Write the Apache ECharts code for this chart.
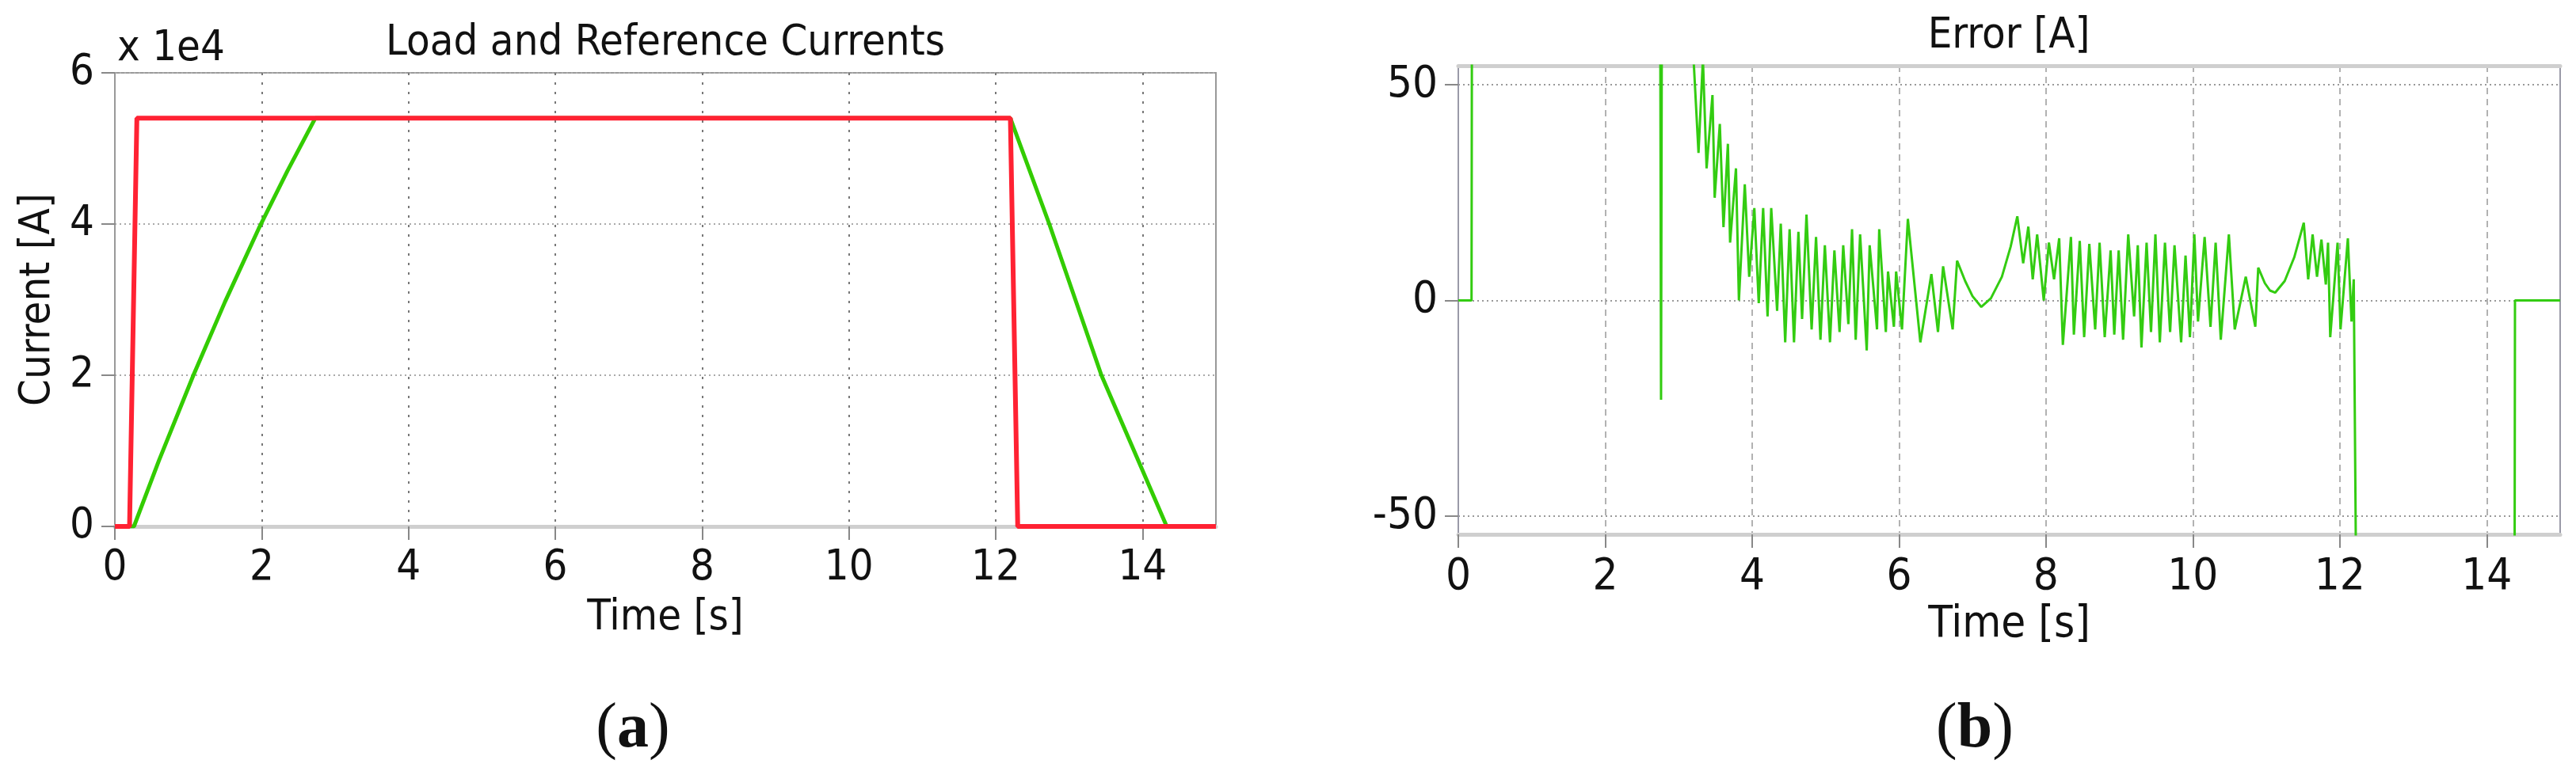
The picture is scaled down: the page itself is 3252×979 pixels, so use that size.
<!DOCTYPE html>
<html>
<head>
<meta charset="utf-8">
<script src="https://cdn.jsdelivr.net/npm/echarts@6/dist/echarts.min.js"></script>
<style>
  html, body { margin: 0; padding: 0; background: #fff; }
  #chart { width: 3252px; height: 979px; }
</style>
</head>
<body>
<div id="chart"></div>
<script>
// (a) reference and load currents [A] against time [s]
const refTime = [0, 0.2, 0.3, 12.2, 12.3, 15];
const refCurrent = [0, 0, 54000, 54000, 0, 0];
const loadTime = [0, 0.26, 0.6, 1.07, 1.5, 1.96, 2.35, 2.73, 12.2, 12.73, 13.44, 14.33, 15];
const loadCurrent = [0, 0, 8700, 20000, 29700, 39400, 47000, 54000, 54000, 40000, 20000, 0, 0];

// (b) error [A]; values beyond +-54 are off the plot
const errTime = [
  0, 0.18, 0.185, 2.75, 2.76, 2.77, 3.19, 3.27, 3.33, 3.38, 3.46, 3.49, 3.56, 3.61, 3.67, 3.70,
  3.78, 3.82, 3.90, 3.96, 4.03, 4.09, 4.15, 4.21, 4.26, 4.34, 4.39, 4.45, 4.51, 4.57, 4.63, 4.68,
  4.74, 4.81, 4.87, 4.93, 4.99, 5.06, 5.12, 5.19, 5.24, 5.31, 5.36, 5.41, 5.47, 5.56, 5.60, 5.70,
  5.73, 5.82, 5.85, 5.93, 5.96, 6.04, 6.12, 6.29, 6.44, 6.53, 6.60, 6.73, 6.79, 6.90, 7.00, 7.12,
  7.25, 7.40, 7.52, 7.61, 7.69, 7.76, 7.82, 7.88, 7.97, 8.04, 8.11, 8.18, 8.23, 8.34, 8.38, 8.46,
  8.52, 8.59, 8.67, 8.73, 8.80, 8.88, 8.93, 8.99, 9.05, 9.12, 9.20, 9.25, 9.30, 9.37, 9.43, 9.49,
  9.55, 9.62, 9.69, 9.75, 9.84, 9.90, 9.96, 10.02, 10.07, 10.16, 10.24, 10.31, 10.38, 10.49, 10.57, 10.72,
  10.85, 10.89, 10.98, 11.05, 11.12, 11.25, 11.38, 11.51, 11.57, 11.63, 11.69, 11.75, 11.81, 11.84, 11.87, 11.97,
  12.01, 12.11, 12.16, 12.19, 12.22, 14.38, 14.385, 15
];
const errValue = [
  0, 0, 60, 60, -23, 60, 60, 34.2, 56, 30.6, 47.6, 23.8, 40.9, 17.0, 36.3, 13.4,
  30.6, 0.0, 26.9, 5.5, 21.4, -0.6, 21.4, -3.7, 21.4, -2.4, 17.8, -9.7, 16.5, -9.7, 15.9, -4.3,
  19.9, -6.7, 14.7, -9.1, 12.8, -9.7, 11.6, -7.3, 12.8, -5.5, 16.5, -9.1, 15.3, -11.6, 12.8, -6.7,
  16.5, -7.3, 6.7, -6.1, 6.7, -6.7, 18.9, -9.7, 6.1, -7.3, 7.9, -6.7, 9.2, 4.5, 1.0, -1.5,
  0.5, 5.5, 12.5, 19.5, 8.6, 17.1, 4.9, 15.3, 0.0, 13.4, 4.9, 14.4, -10.3, 14.7, -7.9, 13.8,
  -8.5, 13.1, -6.7, 13.4, -8.5, 11.6, -7.9, 11.6, -9.1, 15.3, -3.7, 12.8, -10.9, 13.4, -7.3, 15.3,
  -9.7, 13.4, -7.3, 12.8, -9.7, 10.4, -8.5, 15.3, -4.9, 14.7, -6.1, 13.4, -9.1, 15.3, -6.7, 5.5,
  -6.1, 7.6, 4.0, 2.3, 1.8, 4.5, 10.0, 18.0, 4.9, 15.3, 5.5, 14.1, 3.7, 13.4, -8.5, 13.4,
  -6.7, 14.4, -4.9, 4.9, -60, -60, 0, 0
];

const timeTicks = [0, 2, 4, 6, 8, 10, 12, 14];
const errTicks = [-50, 0, 50];

const font = "'DejaVu Sans Condensed', 'DejaVu Sans', sans-serif";
const serif = "'Liberation Serif', 'DejaVu Serif', serif";
const ink = '#111';

function pairs(xs, ys) {
  return xs.map((x, i) => [x, ys[i]]);
}

function timeAxis(gridIndex, nameGap, fontSize, gridLine) {
  return {
    gridIndex,
    type: 'value',
    min: 0,
    max: 15,
    name: 'Time [s]',
    nameLocation: 'middle',
    nameGap,
    nameTextStyle: { fontSize, color: ink, fontFamily: font },
    axisLine: { show: true, onZero: false, lineStyle: { color: '#cfcfcf', width: 5 } },
    axisTick: { show: true, customValues: timeTicks, length: 17, lineStyle: { color: '#888', width: 2 } },
    axisLabel: { customValues: timeTicks, fontSize, color: ink, fontFamily: font, margin: 26 },
    splitLine: { show: true, lineStyle: gridLine }
  };
}

const chart = echarts.init(document.getElementById('chart'));

chart.setOption({
  backgroundColor: '#fff',
  animation: false,
  grid: [
    { left: 145, top: 92, width: 1390, height: 573, show: true, borderColor: '#999', borderWidth: 2 },
    { left: 1841, top: 83, width: 1391, height: 592, show: true, borderColor: '#9a9aa8', borderWidth: 2 }
  ],
  xAxis: [
    timeAxis(0, 89, 54, { color: '#777', width: 2, type: [3, 9] }),
    timeAxis(1, 84, 56, { color: '#999', width: 1.5, type: [8, 6] }),
    {
      // thick light frame along the top of (b)
      gridIndex: 1, type: 'value', min: 0, max: 15, position: 'top',
      axisLine: { show: true, onZero: false, lineStyle: { color: '#cfcfcf', width: 5 } },
      axisTick: { show: false }, axisLabel: { show: false }, splitLine: { show: false }
    }
  ],
  yAxis: [
    {
      gridIndex: 0,
      type: 'value',
      min: 0,
      max: 60000,
      interval: 20000,
      name: 'Current [A]',
      nameLocation: 'middle',
      nameRotate: 90,
      nameGap: 70,
      nameTextStyle: { fontSize: 54, color: ink, fontFamily: font },
      axisLine: { show: true, onZero: false, lineStyle: { color: '#999', width: 2 } },
      axisTick: { show: true, length: 17, lineStyle: { color: '#888', width: 2 } },
      axisLabel: { fontSize: 54, color: ink, fontFamily: font, margin: 26, formatter: (v) => String(v / 10000) },
      splitLine: { show: true, lineStyle: { color: '#aaa', width: 2, type: [2, 4] } }
    },
    {
      gridIndex: 1,
      type: 'value',
      min: -54.2,
      max: 54.4,
      axisLine: { show: true, onZero: false, lineStyle: { color: '#9a9aa8', width: 2 } },
      axisTick: { show: true, customValues: errTicks, length: 17, lineStyle: { color: '#888', width: 2 } },
      axisLabel: { customValues: errTicks, fontSize: 56, color: ink, fontFamily: font, margin: 26 },
      splitLine: { show: true, lineStyle: { color: '#999', width: 2, type: [2, 4] } }
    }
  ],
  series: [
    {
      name: 'Load',
      type: 'line',
      xAxisIndex: 0,
      yAxisIndex: 0,
      data: pairs(loadTime, loadCurrent),
      showSymbol: false,
      lineStyle: { color: '#33cc00', width: 5 },
      z: 3
    },
    {
      name: 'Reference',
      type: 'line',
      xAxisIndex: 0,
      yAxisIndex: 0,
      data: pairs(refTime, refCurrent),
      showSymbol: false,
      lineStyle: { color: '#ff2233', width: 6 },
      z: 4
    },
    {
      name: 'Error',
      type: 'line',
      xAxisIndex: 1,
      yAxisIndex: 1,
      data: pairs(errTime, errValue),
      showSymbol: false,
      lineStyle: { color: '#33cc11', width: 3 },
      z: 3
    }
  ],
  graphic: [
    {
      type: 'text', x: 840, y: 55,
      style: { text: 'Load and Reference Currents', fontSize: 54, fontFamily: font, fill: ink, align: 'center', verticalAlign: 'middle' }
    },
    {
      type: 'text', x: 148, y: 62,
      style: { text: 'x 1e4', fontSize: 54, fontFamily: font, fill: ink, align: 'left', verticalAlign: 'middle' }
    },
    {
      type: 'text', x: 2536, y: 46,
      style: { text: 'Error [A]', fontSize: 54, fontFamily: font, fill: ink, align: 'center', verticalAlign: 'middle' }
    },
    {
      type: 'text', x: 799, y: 922,
      style: {
        text: '{p|(}{b|a}{p|)}', align: 'center', verticalAlign: 'middle',
        rich: {
          p: { fontSize: 80, fontFamily: serif, fill: ink },
          b: { fontSize: 80, fontFamily: serif, fontWeight: 'bold', fill: ink }
        }
      }
    },
    {
      type: 'text', x: 2493, y: 922,
      style: {
        text: '{p|(}{b|b}{p|)}', align: 'center', verticalAlign: 'middle',
        rich: {
          p: { fontSize: 80, fontFamily: serif, fill: ink },
          b: { fontSize: 80, fontFamily: serif, fontWeight: 'bold', fill: ink }
        }
      }
    }
  ]
});
</script>
</body>
</html>
